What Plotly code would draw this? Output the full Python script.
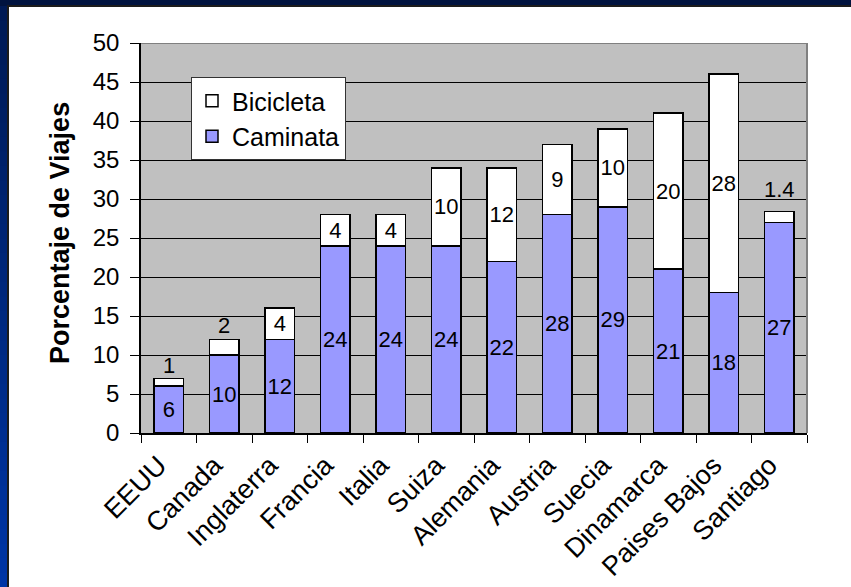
import plotly.graph_objects as go

# Share of trips made on foot / by bicycle, by country
paises = ["EEUU", "Canada", "Inglaterra", "Francia", "Italia", "Suiza",
          "Alemania", "Austria", "Suecia", "Dinamarca", "Paises Bajos", "Santiago"]
caminata = [6, 10, 12, 24, 24, 24, 22, 28, 29, 21, 18, 27]
bicicleta = [1, 2, 4, 4, 4, 10, 12, 9, 10, 20, 28, 1.4]

# Bicycle segments too thin for an inside label get it above the bar
etiqueta_arriba = {"EEUU": 13, "Canada": 14, "Santiago": 22}  # shift in px

FONT = "Liberation Sans, Arial, sans-serif"
W, H = 851, 587
ML, MR, MT, MB = 141, 44, 43, 154
PW, PH = W - ML - MR, H - MT - MB


def px_x(p):
    return (p - ML) / PW


def px_y(p):
    return (H - MB - p) / PH


def fmt(v):
    return f"{v:g}"


fig = go.Figure()

fig.add_trace(go.Bar(
    name="Caminata", x=paises, y=caminata,
    marker=dict(color="#9999FF", line=dict(color="black", width=1.5)),
    text=[fmt(v) for v in caminata], textposition="inside",
    insidetextanchor="middle", textangle=0, constraintext="none",
    textfont=dict(family=FONT, size=22, color="black"),
    hoverinfo="skip",
))

fig.add_trace(go.Bar(
    name="Bicicleta", x=paises, y=bicicleta,
    marker=dict(color="#FFFFFF", line=dict(color="black", width=1.5)),
    text=["" if p in etiqueta_arriba else fmt(v) for p, v in zip(paises, bicicleta)],
    textposition="inside", insidetextanchor="middle", textangle=0,
    constraintext="none",
    textfont=dict(family=FONT, size=22, color="black"),
    hoverinfo="skip",
))

annotations = []
for p, c, b in zip(paises, caminata, bicicleta):
    if p in etiqueta_arriba:
        annotations.append(dict(
            x=p, y=c + b, xref="x", yref="y", text=fmt(b), showarrow=False,
            yshift=etiqueta_arriba[p], yanchor="middle",
            font=dict(family=FONT, size=22, color="black"),
        ))

# Rotated y-axis title
annotations.append(dict(
    x=px_x(60), y=px_y(233), xref="paper", yref="paper",
    xanchor="center", yanchor="middle",
    text="<b>Porcentaje de Viajes</b>", textangle=-90, showarrow=False,
    font=dict(family=FONT, size=27, color="black"),
))

shapes = []
# Dark slide frame: top band and left band with a vertical gradient
shapes.append(dict(type="rect", xref="paper", yref="paper",
                   x0=px_x(0), x1=px_x(W), y0=px_y(6), y1=px_y(0),
                   fillcolor="#00133F", line=dict(width=0), layer="below"))
n_bandas = 40
c_top = (0x00, 0x1A, 0x55)
c_bot = (0x00, 0x35, 0xA5)
for i in range(n_bandas):
    t = i / (n_bandas - 1)
    col = tuple(round(a + (b - a) * t) for a, b in zip(c_top, c_bot))
    y0p = 6 + (H - 6) * i / n_bandas
    y1p = 6 + (H - 6) * (i + 1) / n_bandas + 1
    shapes.append(dict(type="rect", xref="paper", yref="paper",
                       x0=px_x(0), x1=px_x(8), y0=px_y(y1p), y1=px_y(y0p),
                       fillcolor="rgb(%d,%d,%d)" % col, line=dict(width=0),
                       layer="below"))
shapes.append(dict(type="line", xref="paper", yref="paper",
                   x0=px_x(8), x1=px_x(8), y0=px_y(H), y1=px_y(5),
                   line=dict(color="#1C1C1C", width=2), layer="below"))
shapes.append(dict(type="line", xref="paper", yref="paper",
                   x0=px_x(7), x1=px_x(W), y0=px_y(6), y1=px_y(6),
                   line=dict(color="#1C1C1C", width=2), layer="below"))
# Plot area outline on top and right
shapes.append(dict(type="line", xref="paper", yref="y",
                   x0=0, x1=1, y0=50, y1=50,
                   line=dict(color="#808080", width=2)))
shapes.append(dict(type="line", xref="paper", yref="y",
                   x0=1, x1=1, y0=0, y1=50,
                   line=dict(color="#808080", width=2)))

fig.update_layout(
    width=W, height=H,
    margin=dict(l=ML, r=MR, t=MT, b=MB, pad=0),
    paper_bgcolor="white", plot_bgcolor="#C0C0C0",
    barmode="stack", bargap=0.47,
    font=dict(family=FONT, color="black"),
    showlegend=True,
    legend=dict(
        x=px_x(191), y=px_y(77), xanchor="left", yanchor="top",
        bgcolor="white", bordercolor="#333333", borderwidth=1,
        font=dict(family=FONT, size=25, color="black"),
        traceorder="reversed",
    ),
    annotations=annotations,
    shapes=shapes,
    xaxis=dict(
        automargin=False,
        showline=True, linecolor="black", linewidth=1.5,
        ticks="outside", tickson="boundaries", ticklen=8,
        tickcolor="black", tickwidth=1,
        tickangle=-45, tickfont=dict(family=FONT, size=27, color="black"),
        ticklabelstandoff=4, ticklabelshift=-10,
        showgrid=False,
    ),
    yaxis=dict(
        automargin=False,
        range=[0, 50], dtick=5, tick0=0,
        showline=True, linecolor="black", linewidth=1.5,
        ticks="outside", ticklen=9, tickcolor="black", tickwidth=1,
        tickfont=dict(family=FONT, size=24, color="black"),
        ticklabelstandoff=6,
        showgrid=True, gridcolor="black", gridwidth=1,
        zeroline=False,
    ),
)

fig.write_html("out.html")
